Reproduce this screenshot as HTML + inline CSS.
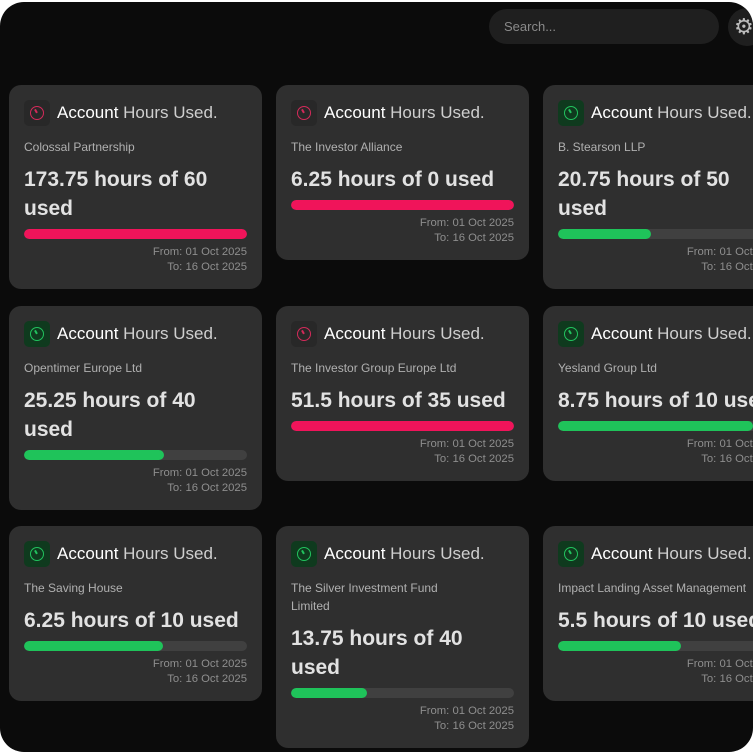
<!DOCTYPE html>
<html><head><meta charset="utf-8"><style>
*{box-sizing:border-box;margin:0;padding:0}
body{width:755px;height:755px;background:#fff;overflow:hidden;font-family:"Liberation Sans",sans-serif}
#panel{position:absolute;left:0;top:2px;width:753px;height:750px;background:#0b0b0b;border-radius:24px;overflow:hidden}
.search{position:absolute;left:489px;top:7px;width:230px;height:35px;border-radius:18px;background:#1f1f1f;color:#8a8a8a;font-size:13px;line-height:35px;padding-left:15px}
.gear{position:absolute;left:728px;top:6px;width:38px;height:38px;border-radius:50%;background:#1f1f1f;color:#bbb;font-size:22px;line-height:38px;padding-left:6px}
.card{position:absolute;width:253px;background:#2f2f2f;border-radius:12px;padding:14px 15px 14px 15px}
.hd{height:28px;display:flex;align-items:center}
.ic{width:26px;height:26px;border-radius:5px;background:#282828;display:flex;align-items:center;justify-content:center;margin-right:7px}
.ic.g{background:#0f3a1e}
.ic span{width:14px;height:14px;border-radius:50%;border:1.6px solid #d42a5a;position:relative}
.ic.g span{border-color:#22c35e}
.ic span:after{content:"";position:absolute;left:5px;top:2px;width:1.5px;height:4px;background:currentColor;transform:rotate(-30deg);transform-origin:bottom}
.ic span{color:#d42a5a}.ic.g span{color:#22c35e}
.t{font-size:17px;color:#fff;white-space:nowrap}
.t i{font-style:normal;color:#cfcfcf}
.sub{margin-top:11px;font-size:12px;line-height:18px;color:#b0b0b0}
.big{margin-top:9px;font-size:21px;line-height:29px;color:#e2e2e2;font-weight:600;white-space:nowrap}
.bar{margin-top:5.5px;height:10px;border-radius:5px;background:#404040;width:223px;overflow:hidden}
.bar div{height:10px;border-radius:5px}
.p{background:#f0145a}.gr{background:#1fc35a}
.dt{margin-top:6.5px;font-size:11.3px;line-height:15px;color:#8e8e8e;text-align:right;width:223px;white-space:nowrap}
</style></head><body><div id="panel">
<div class="search">Search...</div><div class="gear">⚙</div>

<div class="card" style="left:9px;top:83px"><div class="hd"><div class="ic"><span></span></div><div class="t">Account <i>Hours Used.</i></div></div><div class="sub">Colossal Partnership</div><div class="big">173.75 hours of 60<br>used</div><div class="bar"><div class="p" style="width:100%"></div></div><div class="dt">From: 01 Oct 2025<br>To: 16 Oct 2025</div></div>

<div class="card" style="left:276px;top:83px"><div class="hd"><div class="ic"><span></span></div><div class="t">Account <i>Hours Used.</i></div></div><div class="sub">The Investor Alliance</div><div class="big">6.25 hours of 0 used</div><div class="bar"><div class="p" style="width:100%"></div></div><div class="dt">From: 01 Oct 2025<br>To: 16 Oct 2025</div></div>

<div class="card" style="left:543px;top:83px"><div class="hd"><div class="ic g"><span></span></div><div class="t">Account <i>Hours Used.</i></div></div><div class="sub">B. Stearson LLP</div><div class="big">20.75 hours of 50<br>used</div><div class="bar"><div class="gr" style="width:41.5%"></div></div><div class="dt">From: 01 Oct 2025<br>To: 16 Oct 2025</div></div>

<div class="card" style="left:9px;top:304px"><div class="hd"><div class="ic g"><span></span></div><div class="t">Account <i>Hours Used.</i></div></div><div class="sub">Opentimer Europe Ltd</div><div class="big">25.25 hours of 40<br>used</div><div class="bar"><div class="gr" style="width:63%"></div></div><div class="dt">From: 01 Oct 2025<br>To: 16 Oct 2025</div></div>

<div class="card" style="left:276px;top:304px"><div class="hd"><div class="ic"><span></span></div><div class="t">Account <i>Hours Used.</i></div></div><div class="sub">The Investor Group Europe Ltd</div><div class="big">51.5 hours of 35 used</div><div class="bar"><div class="p" style="width:100%"></div></div><div class="dt">From: 01 Oct 2025<br>To: 16 Oct 2025</div></div>

<div class="card" style="left:543px;top:304px"><div class="hd"><div class="ic g"><span></span></div><div class="t">Account <i>Hours Used.</i></div></div><div class="sub">Yesland Group Ltd</div><div class="big">8.75 hours of 10 used</div><div class="bar"><div class="gr" style="width:87.5%"></div></div><div class="dt">From: 01 Oct 2025<br>To: 16 Oct 2025</div></div>

<div class="card" style="left:9px;top:524px"><div class="hd"><div class="ic g"><span></span></div><div class="t">Account <i>Hours Used.</i></div></div><div class="sub">The Saving House</div><div class="big">6.25 hours of 10 used</div><div class="bar"><div class="gr" style="width:62.5%"></div></div><div class="dt">From: 01 Oct 2025<br>To: 16 Oct 2025</div></div>

<div class="card" style="left:276px;top:524px"><div class="hd"><div class="ic g"><span></span></div><div class="t">Account <i>Hours Used.</i></div></div><div class="sub">The Silver Investment Fund<br>Limited</div><div class="big">13.75 hours of 40<br>used</div><div class="bar"><div class="gr" style="width:34%"></div></div><div class="dt">From: 01 Oct 2025<br>To: 16 Oct 2025</div></div>

<div class="card" style="left:543px;top:524px"><div class="hd"><div class="ic g"><span></span></div><div class="t">Account <i>Hours Used.</i></div></div><div class="sub">Impact Landing Asset Management</div><div class="big">5.5 hours of 10 used</div><div class="bar"><div class="gr" style="width:55%"></div></div><div class="dt">From: 01 Oct 2025<br>To: 16 Oct 2025</div></div>

</div></body></html>
